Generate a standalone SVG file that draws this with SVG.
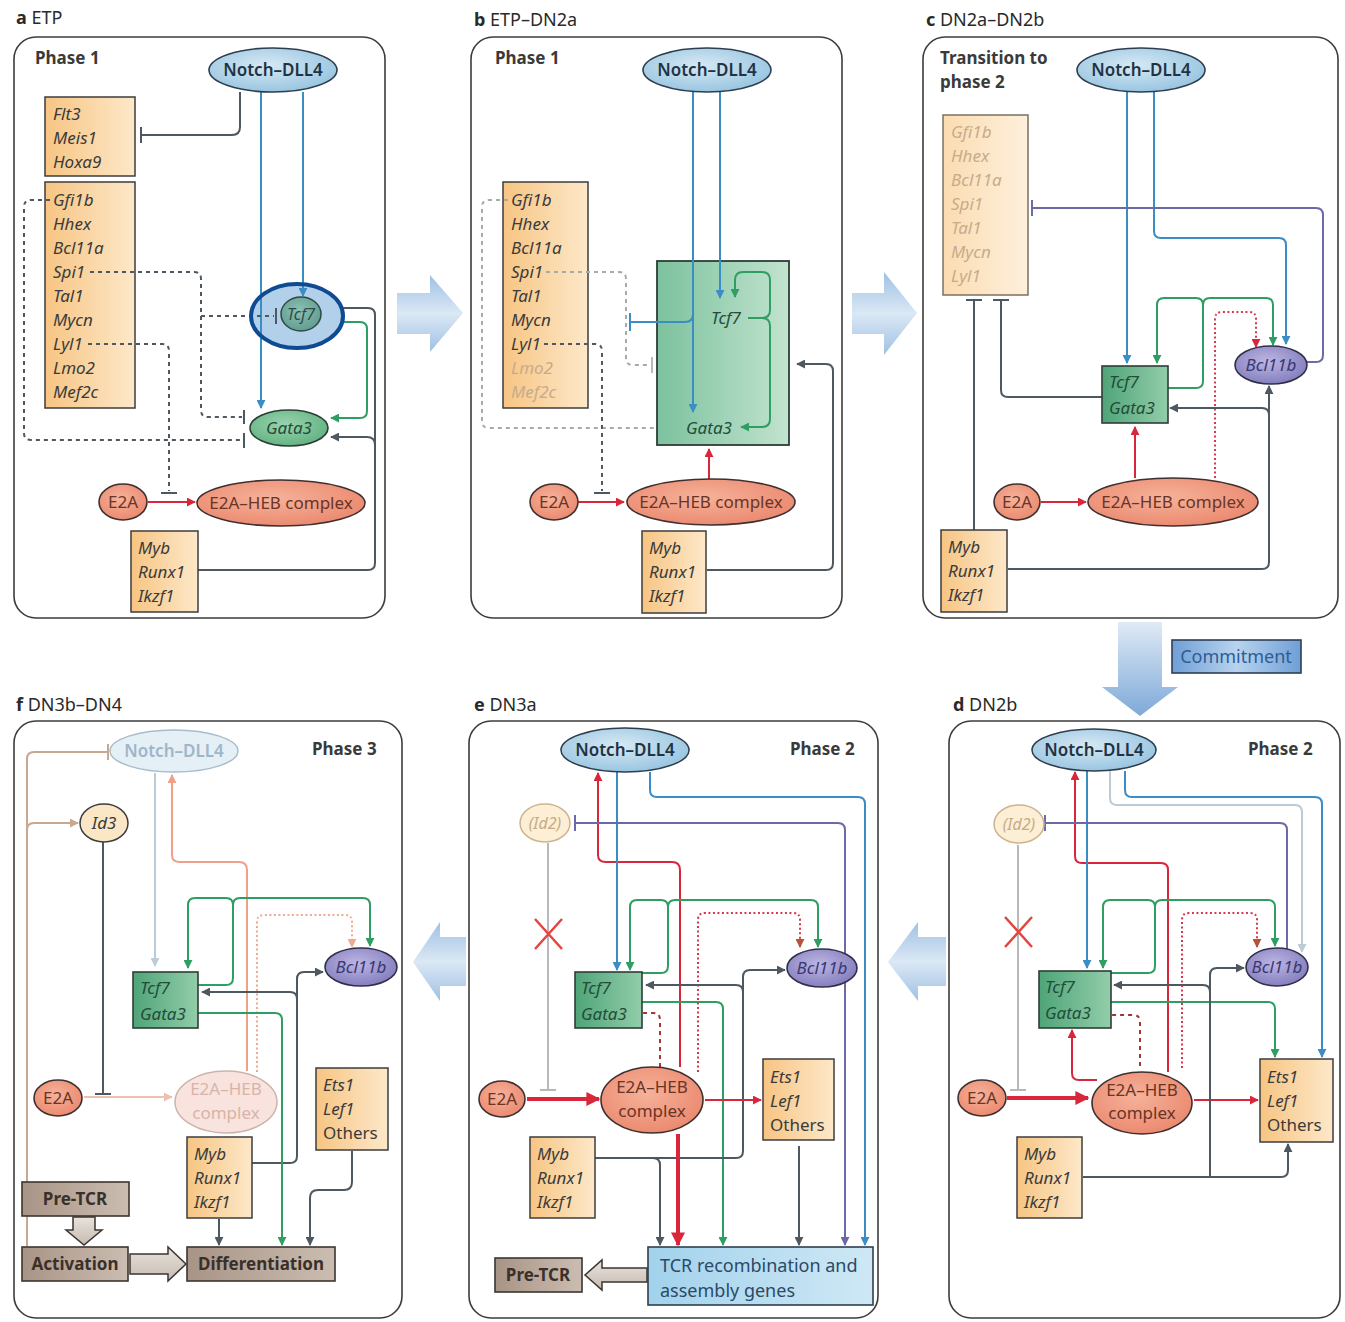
<svg xmlns="http://www.w3.org/2000/svg" width="1345" height="1322" viewBox="0 0 1345 1322">
<defs>
  <linearGradient id="gOrange" x1="0" x2="1" y1="0" y2="0"><stop offset="0" stop-color="#f7c583"/><stop offset="1" stop-color="#fde8c9"/></linearGradient>
  <linearGradient id="gOrangeFade" x1="0" x2="1"><stop offset="0" stop-color="#fbdcb2"/><stop offset="1" stop-color="#fef0dc"/></linearGradient>
  <linearGradient id="gGreen" x1="0" x2="1"><stop offset="0" stop-color="#4fa478"/><stop offset="1" stop-color="#92cdaa"/></linearGradient>
  <linearGradient id="gGreenBig" x1="0" x2="1"><stop offset="0" stop-color="#7cc29e"/><stop offset="1" stop-color="#c2e3cf"/></linearGradient>
  <radialGradient id="gNotch" cx="0.45" cy="0.4" r="0.7"><stop offset="0" stop-color="#d7e9f4"/><stop offset="1" stop-color="#8fc0de"/></radialGradient>
  <radialGradient id="gSalmon" cx="0.45" cy="0.4" r="0.7"><stop offset="0" stop-color="#f6b29a"/><stop offset="1" stop-color="#e9846a"/></radialGradient>
  <radialGradient id="gPurple" cx="0.45" cy="0.4" r="0.7"><stop offset="0" stop-color="#bcb6e4"/><stop offset="1" stop-color="#7c76b8"/></radialGradient>
  <radialGradient id="gTeal" cx="0.45" cy="0.4" r="0.7"><stop offset="0" stop-color="#8cc0b4"/><stop offset="1" stop-color="#5c978b"/></radialGradient>
  <radialGradient id="gGata" cx="0.45" cy="0.4" r="0.7"><stop offset="0" stop-color="#9ad3ae"/><stop offset="1" stop-color="#5aae7d"/></radialGradient>
  <linearGradient id="gArrowH" x1="0" x2="0" y1="0" y2="1"><stop offset="0" stop-color="#9fc1e3"/><stop offset="0.5" stop-color="#dbe8f5"/><stop offset="1" stop-color="#9fc1e3"/></linearGradient>
  <linearGradient id="gArrowDown" x1="0" x2="0" y1="0" y2="1"><stop offset="0" stop-color="#dfeaf6"/><stop offset="1" stop-color="#7ea9d8"/></linearGradient>
  <linearGradient id="gCommit" x1="0" x2="1"><stop offset="0" stop-color="#6f9fd6"/><stop offset="0.5" stop-color="#b9d3ee"/><stop offset="1" stop-color="#6f9fd6"/></linearGradient>
  <linearGradient id="gTCR" x1="0" x2="1"><stop offset="0" stop-color="#a2d2ec"/><stop offset="1" stop-color="#cfe8f5"/></linearGradient>
  <linearGradient id="gTan" x1="0" x2="1"><stop offset="0" stop-color="#a89486"/><stop offset="1" stop-color="#cbbdb1"/></linearGradient>
  <linearGradient id="gHollow" x1="0" x2="0" y1="0" y2="1"><stop offset="0" stop-color="#e9e3dd"/><stop offset="1" stop-color="#c5bbb1"/></linearGradient>

  <marker id="aBlue" viewBox="0 0 10 10" refX="9" refY="5" markerWidth="9" markerHeight="9" markerUnits="userSpaceOnUse" orient="auto"><path d="M0,0 L10,5 L0,10 z" fill="#3b8dc6"/></marker>
  <marker id="aGreen" viewBox="0 0 10 10" refX="9" refY="5" markerWidth="9" markerHeight="9" markerUnits="userSpaceOnUse" orient="auto"><path d="M0,0 L10,5 L0,10 z" fill="#2f9e62"/></marker>
  <marker id="aRed" viewBox="0 0 10 10" refX="9" refY="5" markerWidth="9" markerHeight="9" markerUnits="userSpaceOnUse" orient="auto"><path d="M0,0 L10,5 L0,10 z" fill="#d9263a"/></marker>
  <marker id="aRedBig" viewBox="0 0 10 10" refX="9" refY="5" markerWidth="14" markerHeight="14" markerUnits="userSpaceOnUse" orient="auto"><path d="M0,0 L10,5 L0,10 z" fill="#d9263a"/></marker>
  <marker id="aGray" viewBox="0 0 10 10" refX="9" refY="5" markerWidth="9" markerHeight="9" markerUnits="userSpaceOnUse" orient="auto"><path d="M0,0 L10,5 L0,10 z" fill="#4d5860"/></marker>
  <marker id="aPurple" viewBox="0 0 10 10" refX="9" refY="5" markerWidth="9" markerHeight="9" markerUnits="userSpaceOnUse" orient="auto"><path d="M0,0 L10,5 L0,10 z" fill="#6b69a8"/></marker>
  <marker id="aLight" viewBox="0 0 10 10" refX="9" refY="5" markerWidth="9" markerHeight="9" markerUnits="userSpaceOnUse" orient="auto"><path d="M0,0 L10,5 L0,10 z" fill="#bccbd8"/></marker>
  <marker id="aSalmon" viewBox="0 0 10 10" refX="9" refY="5" markerWidth="9" markerHeight="9" markerUnits="userSpaceOnUse" orient="auto"><path d="M0,0 L10,5 L0,10 z" fill="#f0a088"/></marker>
  <marker id="aPale" viewBox="0 0 10 10" refX="9" refY="5" markerWidth="9" markerHeight="9" markerUnits="userSpaceOnUse" orient="auto"><path d="M0,0 L10,5 L0,10 z" fill="#efc0b2"/></marker>
  <marker id="aTan" viewBox="0 0 10 10" refX="9" refY="5" markerWidth="9" markerHeight="9" markerUnits="userSpaceOnUse" orient="auto"><path d="M0,0 L10,5 L0,10 z" fill="#c9a88f"/></marker>
  <marker id="aBrown" viewBox="0 0 10 10" refX="9" refY="5" markerWidth="9" markerHeight="9" markerUnits="userSpaceOnUse" orient="auto"><path d="M0,0 L10,5 L0,10 z" fill="#b5523a"/></marker>
  <marker id="aPink" viewBox="0 0 10 10" refX="9" refY="5" markerWidth="9" markerHeight="9" markerUnits="userSpaceOnUse" orient="auto"><path d="M0,0 L10,5 L0,10 z" fill="#f0a890"/></marker>

  <style>
    text { font-family: "Noto Sans", "Liberation Sans", sans-serif; }
    .frame { fill: #ffffff; stroke: #3c3c3c; stroke-width: 1.6; }
    .title { font-size: 18px; fill: #2a2a2a; }
    .title .k { font-weight: bold; }
    .phase { font-size: 17px; font-weight: bold; fill: #3a3a3a; }
    .gene { fill: url(#gOrange); stroke: #3d3d3d; stroke-width: 1.5; }
    .geneFade { fill: url(#gOrangeFade); stroke: #7a7060; stroke-width: 1.5; }
    .gt { font-size: 17px; font-style: italic; fill: #3b3b3b; }
    .gtf { font-size: 17px; font-style: italic; fill: #c8ab8a; }
    .up { font-style: normal; }
    .notch { fill: url(#gNotch); stroke: #2e3e4e; stroke-width: 1.6; }
    .notchT { font-size: 17px; font-weight: 600; fill: #1f3344; }
    .salmon { fill: url(#gSalmon); stroke: #3e3030; stroke-width: 1.6; }
    .salmonT { font-size: 17px; fill: #6a3426; }
    .gbox { fill: url(#gGreen); stroke: #2d3d34; stroke-width: 1.6; }
    .gboxT { font-size: 17px; font-style: italic; fill: #234c37; }
    .bcl { fill: url(#gPurple); stroke: #2f2f4a; stroke-width: 1.6; }
    .bclT { font-size: 17px; font-style: italic; fill: #3a3870; }
    .idn { fill: #fcefd6; stroke: #cdb48e; stroke-width: 1.5; }
    .idnT { font-size: 16px; font-style: italic; fill: #c9ab84; }
    .tanbox { fill: url(#gTan); stroke: #3b3530; stroke-width: 1.6; }
    .tanT { font-size: 17px; font-weight: bold; fill: #3a302a; }
    .blockArrow { fill: url(#gArrowH); stroke: none; }
    .hollow { fill: url(#gHollow); stroke: #3b3530; stroke-width: 1.5; }

    .c { fill: none; stroke-width: 2; }
    .blue { stroke: #3b8dc6; }
    .green { stroke: #2f9e62; }
    .red { stroke: #d9263a; }
    .redThick { stroke: #d9263a; stroke-width: 4; }
    .gray { stroke: #4d5860; }
    .purple { stroke: #6b69a8; }
    .light { stroke: #bccbd8; }
    .lgray { stroke: #b8b8b8; }
    .dash { stroke: #4d5860; stroke-dasharray: 4 4; }
    .dashLight { stroke: #a9a9a9; stroke-dasharray: 4 4; }
    .dotRed { stroke: #d43a4e; stroke-dasharray: 2 2.5; }
    .dashBrown { stroke: #a13838; stroke-dasharray: 4 4; }
    .salm { stroke: #f0a088; }
    .pale { stroke: #efc0b2; }
    .tan { stroke: #c9a88f; }
    .dotPink { stroke: #f0a890; stroke-dasharray: 2 2.5; }
  </style>
</defs>

<rect x="0" y="0" width="1345" height="1322" fill="#ffffff"/>

<!-- panel titles -->
<g id="titles" class="title">
  <text x="16" y="24"><tspan class="k">a</tspan>  ETP</text>
  <text x="474" y="26"><tspan class="k">b</tspan>  ETP–DN2a</text>
  <text x="926" y="26"><tspan class="k">c</tspan>  DN2a–DN2b</text>
  <text x="953" y="711"><tspan class="k">d</tspan>  DN2b</text>
  <text x="474" y="711"><tspan class="k">e</tspan>  DN3a</text>
  <text x="16" y="711"><tspan class="k">f</tspan>  DN3b–DN4</text>
</g>

<!-- panel frames -->
<g id="frames">
  <rect class="frame" x="14" y="37" width="371" height="581" rx="22"/>
  <rect class="frame" x="471" y="37" width="371" height="581" rx="22"/>
  <rect class="frame" x="923" y="37" width="415" height="581" rx="22"/>
  <rect class="frame" x="949" y="721" width="391" height="597" rx="22"/>
  <rect class="frame" x="469" y="721" width="409" height="597" rx="22"/>
  <rect class="frame" x="14" y="721" width="388" height="597" rx="22"/>
</g>

<!-- stage-to-stage block arrows -->
<g id="stage-arrows">
  <path class="blockArrow" d="M397,293 H430 V275 L463,313 L430,352 V334 H397 Z"/>
  <path class="blockArrow" d="M852,293 H884 V272 L917,313 L884,355 V334 H852 Z"/>
  <path d="M1118,622 H1162 V687 H1178 L1140,716 L1102,687 H1118 Z" fill="url(#gArrowDown)"/>
  <path class="blockArrow" d="M946,937 H918 V922 L888,962 L918,1001 V986 H946 Z"/>
  <path class="blockArrow" d="M466,937 H440 V922 L413,962 L440,1001 V986 H466 Z"/>
  <g id="commitment">
    <rect x="1172" y="640" width="129" height="33" fill="url(#gCommit)" stroke="#2e3e55" stroke-width="1.6"/>
    <text x="1236" y="663" text-anchor="middle" font-size="18" fill="#2d5d95">Commitment</text>
  </g>
</g>

<!-- Tcf7 highlight ring background in panel a -->
<ellipse id="a-ring-fill" cx="297" cy="316" rx="46" ry="32" fill="#b3d0ea"/>
<!-- big green box in panel b -->
<rect id="b-tcf7-gata3" x="657" y="261" width="132" height="184" fill="url(#gGreenBig)" stroke="#2d3d34" stroke-width="1.8"/>

<!-- ================= connectors ================= -->
<g id="connectors">
  <!-- panel a -->
  <path class="c gray" d="M240,92 V127 Q240,135 232,135 H142"/>
  <path class="c gray" d="M141,127 V143"/>
  <path class="c blue" d="M303,92 V296" marker-end="url(#aBlue)"/>
  <path class="c blue" d="M261,92 V408" marker-end="url(#aBlue)"/>
  <path class="c red" d="M148,502 H195" marker-end="url(#aRed)"/>
  <path class="c gray" d="M198,570 H368 Q375,570 375,563 V315 Q375,308 368,308 H343"/>
  <path class="c gray" d="M375,445 Q375,437 367,437 H331" marker-end="url(#aGray)"/>
  <path class="c green" d="M341,322 H360 Q367,322 367,329 V411 Q367,418 360,418 H331" marker-end="url(#aGreen)"/>

  <!-- panel b -->
  <path class="c blue" d="M720,92 V298" marker-end="url(#aBlue)"/>
  <path class="c blue" d="M693,92 V412" marker-end="url(#aBlue)"/>
  <path class="c blue" d="M693,314 Q693,322 685,322 H631"/>
  <path class="c blue" d="M630,313 V331"/>
  <path class="c green" d="M748,318 H762 Q770,318 770,310 V280 Q770,272 762,272 H743 Q735,272 735,280 V297" marker-end="url(#aGreen)"/>
  <path class="c green" d="M762,318 Q770,318 770,326 V419 Q770,427 762,427 H741" marker-end="url(#aGreen)"/>
  <path class="c red" d="M578,502 H624" marker-end="url(#aRed)"/>
  <path class="c red" d="M709,479 V449" marker-end="url(#aRed)"/>
  <path class="c gray" d="M707,570 H826 Q833,570 833,563 V371 Q833,364 826,364 H797" marker-end="url(#aGray)"/>

  <!-- panel c -->
  <path class="c blue" d="M1127,92 V363" marker-end="url(#aBlue)"/>
  <path class="c blue" d="M1154,92 V231 Q1154,238 1161,238 H1279 Q1286,238 1286,245 V344" marker-end="url(#aBlue)"/>
  <path class="c purple" d="M1307,362 H1316 Q1323,362 1323,355 V215 Q1323,208 1316,208 H1033"/>
  <path class="c purple" d="M1032,200 V216"/>
  <path class="c gray" d="M974,530 V300"/>
  <path class="c gray" d="M966,300 H982"/>
  <path class="c gray" d="M1102,397 H1008 Q1001,397 1001,390 V300"/>
  <path class="c gray" d="M993,300 H1009"/>
  <path class="c green" d="M1168,388 H1196 Q1203,388 1203,381 V305 Q1203,298 1196,298 H1164 Q1157,298 1157,305 V363" marker-end="url(#aGreen)"/>
  <path class="c green" d="M1203,305 Q1203,298 1210,298 H1266 Q1273,298 1273,305 V345" marker-end="url(#aGreen)"/>
  <path class="c dotRed" d="M1215,478 V319 Q1215,312 1222,312 H1249 Q1256,312 1256,319 V347" marker-end="url(#aRed)"/>
  <path class="c red" d="M1135,478 V427" marker-end="url(#aRed)"/>
  <path class="c red" d="M1041,502 H1086" marker-end="url(#aRed)"/>
  <path class="c gray" d="M1008,569 H1262 Q1269,569 1269,562 V386" marker-end="url(#aGray)"/>
  <path class="c gray" d="M1269,415 Q1269,408 1262,408 H1170" marker-end="url(#aGray)"/>

  <!-- panel d -->
  <path class="c red" d="M1168,1072 V870 Q1168,863 1161,863 H1082 Q1075,863 1075,856 V772" marker-end="url(#aRed)"/>
  <path class="c blue" d="M1087,771 V968" marker-end="url(#aBlue)"/>
  <path class="c light" d="M1110,771 V798 Q1110,805 1117,805 H1295 Q1302,805 1302,812 V952" marker-end="url(#aLight)"/>
  <path class="c blue" d="M1125,771 V790 Q1125,797 1132,797 H1315 Q1322,797 1322,804 V1057" marker-end="url(#aBlue)"/>
  <path class="c purple" d="M1287,950 V830 Q1287,823 1280,823 H1046"/>
  <path class="c purple" d="M1045,815 V831"/>
  <path class="c lgray" d="M1018,845 V1090"/>
  <path class="c lgray" d="M1010,1090 H1026"/>
  <path class="c green" d="M1111,973 H1148 Q1155,973 1155,966 V907 Q1155,900 1148,900 H1110 Q1103,900 1103,907 V968" marker-end="url(#aGreen)"/>
  <path class="c green" d="M1155,907 Q1155,900 1162,900 H1268 Q1275,900 1275,907 V946" marker-end="url(#aGreen)"/>
  <path class="c green" d="M1111,1002 H1268 Q1275,1002 1275,1009 V1057" marker-end="url(#aGreen)"/>
  <path class="c dotRed" d="M1182,1068 V920 Q1182,913 1189,913 H1250 Q1257,913 1257,920 V947" marker-end="url(#aBrown)"/>
  <path class="c dashBrown" d="M1140,1066 V1022 Q1140,1015 1133,1015 H1107"/>
  <path d="M1104,1004 V1022" stroke="#e0762a" stroke-width="2.5"/>
  <path class="c red" d="M1097,1080 H1079 Q1072,1080 1072,1073 V1030" marker-end="url(#aRed)"/>
  <path class="c redThick" d="M1007,1098 H1088" marker-end="url(#aRedBig)"/>
  <path class="c red" d="M1194,1100 H1258" marker-end="url(#aRed)"/>
  <path class="c gray" d="M1083,1177 H1281 Q1288,1177 1288,1170 V1144" marker-end="url(#aGray)"/>
  <path class="c gray" d="M1210,1177 V975 Q1210,968 1217,968 H1244" marker-end="url(#aGray)"/>
  <path class="c gray" d="M1210,992 Q1210,985 1203,985 H1114" marker-end="url(#aGray)"/>

  <!-- panel e -->
  <path class="c red" d="M680,1067 V870 Q680,862 672,862 H606 Q598,862 598,855 V773" marker-end="url(#aRed)"/>
  <path class="c blue" d="M617,772 V970" marker-end="url(#aBlue)"/>
  <path class="c blue" d="M650,772 V790 Q650,797 657,797 H858 Q865,797 865,804 V1245" marker-end="url(#aBlue)"/>
  <path class="c purple" d="M576,823 H838 Q845,823 845,830 V1245" marker-end="url(#aPurple)"/>
  <path class="c purple" d="M575,815 V831"/>
  <path class="c lgray" d="M548,843 V1090"/>
  <path class="c lgray" d="M540,1090 H556"/>
  <path class="c green" d="M642,973 H661 Q668,973 668,966 V907 Q668,900 661,900 H637 Q630,900 630,907 V970" marker-end="url(#aGreen)"/>
  <path class="c green" d="M668,907 Q668,900 675,900 H811 Q818,900 818,907 V947" marker-end="url(#aGreen)"/>
  <path class="c green" d="M642,1002 H716 Q723,1002 723,1009 V1245" marker-end="url(#aGreen)"/>
  <path class="c dotRed" d="M698,1072 V920 Q698,913 705,913 H793 Q800,913 800,920 V947" marker-end="url(#aBrown)"/>
  <path class="c dashBrown" d="M660,1067 V1020 Q660,1013 653,1013 H642"/>
  <path d="M638,1004 V1022" stroke="#e0762a" stroke-width="2.5"/>
  <path class="c gray" d="M595,1158 H653 Q660,1158 660,1165 V1245" marker-end="url(#aGray)"/>
  <path class="c gray" d="M653,1158 H736 Q743,1158 743,1151 V977 Q743,970 750,970 H785" marker-end="url(#aGray)"/>
  <path class="c gray" d="M743,992 Q743,985 736,985 H646" marker-end="url(#aGray)"/>
  <path class="c redThick" d="M678,1134 V1245" marker-end="url(#aRedBig)"/>
  <path class="c gray" d="M799,1146 V1245" marker-end="url(#aGray)"/>
  <path class="c red" d="M705,1100 H761" marker-end="url(#aRed)"/>
  <path class="c redThick" d="M527,1099 H599" marker-end="url(#aRedBig)"/>

  <!-- panel f -->
  <path class="c tan" d="M27,1246 V830 Q27,823 34,823 H78" marker-end="url(#aTan)"/>
  <path class="c tan" d="M27,830 V759 Q27,752 34,752 H107"/>
  <path class="c tan" d="M108,744 V760"/>
  <path class="c gray" d="M103,842 V1093"/>
  <path class="c gray" d="M95,1094 H111"/>
  <path class="c light" d="M155,773 V966" marker-end="url(#aLight)"/>
  <path class="c salm" d="M247,1071 V870 Q247,862 239,862 H180 Q172,862 172,855 V775" marker-end="url(#aSalmon)"/>
  <path class="c green" d="M198,985 H226 Q233,985 233,978 V905 Q233,898 226,898 H195 Q188,898 188,905 V968" marker-end="url(#aGreen)"/>
  <path class="c green" d="M233,905 Q233,898 240,898 H363 Q370,898 370,905 V946" marker-end="url(#aGreen)"/>
  <path class="c dotPink" d="M257,1072 V922 Q257,915 264,915 H345 Q352,915 352,922 V947" marker-end="url(#aPink)"/>
  <path class="c gray" d="M252,1163 H290 Q297,1163 297,1156 V979 Q297,972 304,972 H323" marker-end="url(#aGray)"/>
  <path class="c gray" d="M297,999 Q297,992 290,992 H202" marker-end="url(#aGray)"/>
  <path class="c green" d="M198,1013 H275 Q282,1013 282,1020 V1245" marker-end="url(#aGreen)"/>
  <path class="c pale" d="M84,1097 H172" marker-end="url(#aPale)"/>
  <path class="c gray" d="M219,1219 V1245" marker-end="url(#aGray)"/>
  <path class="c gray" d="M352,1151 V1182 Q352,1190 344,1190 H318 Q310,1190 310,1198 V1245" marker-end="url(#aGray)"/>

  <!-- hollow process arrows -->
  <path class="hollow" d="M73,1217 H95 V1230 H102 L84,1245 L66,1230 H73 Z"/>
  <path class="hollow" d="M130,1254 H168 V1247 L186,1264 L168,1281 V1274 H130 Z"/>
  <path class="hollow" d="M647,1268 H602 V1260 L585,1275 L602,1290 V1282 H647 Z"/>
</g>

<!-- ================= nodes ================= -->
<!-- panel a -->
<g id="a-nodes">
  <g id="a-notch"><ellipse class="notch" cx="273" cy="70" rx="64" ry="22"/><text class="notchT" x="273" y="76" text-anchor="middle">Notch–DLL4</text></g>
  <g id="a-flt3"><rect class="gene" x="45" y="97" width="90" height="79"/>
    <text class="gt" x="53"><tspan x="53" y="120">Flt3</tspan><tspan x="53" y="144">Meis1</tspan><tspan x="53" y="168">Hoxa9</tspan></text></g>
  <g id="a-genes"><rect class="gene" x="45" y="182" width="90" height="226"/>
    <text class="gt"><tspan x="53" y="206">Gfi1b</tspan><tspan x="53" y="230">Hhex</tspan><tspan x="53" y="254">Bcl11a</tspan><tspan x="53" y="278">Spi1</tspan><tspan x="53" y="302">Tal1</tspan><tspan x="53" y="326">Mycn</tspan><tspan x="53" y="350">Lyl1</tspan><tspan x="53" y="374">Lmo2</tspan><tspan x="53" y="398">Mef2c</tspan></text></g>
  <g id="a-tcf7"><ellipse cx="301" cy="314" rx="20" ry="17" fill="url(#gTeal)" stroke="#2e4a44" stroke-width="1.5"/><text x="301" y="320" text-anchor="middle" font-size="16" font-style="italic" fill="#2c4c46">Tcf7</text></g>
  <g id="a-gata3"><ellipse cx="289" cy="428" rx="39" ry="18" fill="url(#gGata)" stroke="#2d3d34" stroke-width="1.6"/><text class="gboxT" x="289" y="434" text-anchor="middle">Gata3</text></g>
  <g id="a-e2a"><ellipse class="salmon" cx="123" cy="502" rx="24" ry="18"/><text class="salmonT" x="123" y="508" text-anchor="middle">E2A</text></g>
  <g id="a-e2aheb"><ellipse class="salmon" cx="281" cy="503" rx="84" ry="23"/><text class="salmonT" x="281" y="509" text-anchor="middle">E2A–HEB complex</text></g>
  <g id="a-myb"><rect class="gene" x="131" y="531" width="67" height="81"/>
    <text class="gt"><tspan x="138" y="554">Myb</tspan><tspan x="138" y="578">Runx1</tspan><tspan x="138" y="602">Ikzf1</tspan></text></g>
  <text class="phase" x="35" y="64">Phase 1</text>
</g>

<!-- panel b -->
<g id="b-nodes">
  <g id="b-notch"><ellipse class="notch" cx="707" cy="70" rx="64" ry="22"/><text class="notchT" x="707" y="76" text-anchor="middle">Notch–DLL4</text></g>
  <g id="b-genes"><rect class="gene" x="503" y="182" width="85" height="226"/>
    <text class="gt"><tspan x="511" y="206">Gfi1b</tspan><tspan x="511" y="230">Hhex</tspan><tspan x="511" y="254">Bcl11a</tspan><tspan x="511" y="278">Spi1</tspan><tspan x="511" y="302">Tal1</tspan><tspan x="511" y="326">Mycn</tspan><tspan x="511" y="350">Lyl1</tspan></text>
    <text class="gtf"><tspan x="511" y="374">Lmo2</tspan><tspan x="511" y="398">Mef2c</tspan></text></g>
  <g id="b-box-labels"><text class="gboxT" x="726" y="324" text-anchor="middle">Tcf7</text><text class="gboxT" x="709" y="434" text-anchor="middle">Gata3</text></g>
  <g id="b-e2a"><ellipse class="salmon" cx="554" cy="502" rx="24" ry="18"/><text class="salmonT" x="554" y="508" text-anchor="middle">E2A</text></g>
  <g id="b-e2aheb"><ellipse class="salmon" cx="711" cy="502" rx="84" ry="23"/><text class="salmonT" x="711" y="508" text-anchor="middle">E2A–HEB complex</text></g>
  <g id="b-myb"><rect class="gene" x="642" y="531" width="64" height="82"/>
    <text class="gt"><tspan x="649" y="554">Myb</tspan><tspan x="649" y="578">Runx1</tspan><tspan x="649" y="602">Ikzf1</tspan></text></g>
  <text class="phase" x="495" y="64">Phase 1</text>
</g>

<!-- panel c -->
<g id="c-nodes">
  <g id="c-notch"><ellipse class="notch" cx="1141" cy="70" rx="64" ry="22"/><text class="notchT" x="1141" y="76" text-anchor="middle">Notch–DLL4</text></g>
  <g id="c-genes"><rect class="geneFade" x="943" y="115" width="85" height="180"/>
    <text class="gtf"><tspan x="951" y="138">Gfi1b</tspan><tspan x="951" y="162">Hhex</tspan><tspan x="951" y="186">Bcl11a</tspan><tspan x="951" y="210">Spi1</tspan><tspan x="951" y="234">Tal1</tspan><tspan x="951" y="258">Mycn</tspan><tspan x="951" y="282">Lyl1</tspan></text></g>
  <g id="c-tcf7gata3"><rect class="gbox" x="1102" y="366" width="66" height="57"/>
    <text class="gboxT"><tspan x="1109" y="388">Tcf7</tspan><tspan x="1109" y="414">Gata3</tspan></text></g>
  <g id="c-bcl11b"><ellipse class="bcl" cx="1271" cy="365" rx="36" ry="19"/><text class="bclT" x="1271" y="371" text-anchor="middle">Bcl11b</text></g>
  <g id="c-e2a"><ellipse class="salmon" cx="1017" cy="502" rx="23" ry="18"/><text class="salmonT" x="1017" y="508" text-anchor="middle">E2A</text></g>
  <g id="c-e2aheb"><ellipse class="salmon" cx="1173" cy="502" rx="85" ry="24"/><text class="salmonT" x="1173" y="508" text-anchor="middle">E2A–HEB complex</text></g>
  <g id="c-myb"><rect class="gene" x="941" y="530" width="66" height="82"/>
    <text class="gt"><tspan x="948" y="553">Myb</tspan><tspan x="948" y="577">Runx1</tspan><tspan x="948" y="601">Ikzf1</tspan></text></g>
  <text class="phase" x="940" y="64">Transition to</text>
  <text class="phase" x="940" y="88">phase 2</text>
</g>

<!-- panel d -->
<g id="d-nodes">
  <g id="d-notch"><ellipse class="notch" cx="1094" cy="750" rx="62" ry="21"/><text class="notchT" x="1094" y="756" text-anchor="middle">Notch–DLL4</text></g>
  <g id="d-id2"><ellipse class="idn" cx="1019" cy="824" rx="25" ry="19"/><text class="idnT" x="1019" y="830" text-anchor="middle">(Id2)</text></g>
  <g id="d-x" stroke="#e2463e" stroke-width="2.5"><path d="M1005,917 L1032,947 M1032,917 L1005,947"/></g>
  <g id="d-tcf7gata3"><rect class="gbox" x="1039" y="971" width="72" height="57"/>
    <text class="gboxT"><tspan x="1045" y="993">Tcf7</tspan><tspan x="1045" y="1019">Gata3</tspan></text></g>
  <g id="d-bcl11b"><ellipse class="bcl" cx="1277" cy="967" rx="31" ry="19"/><text class="bclT" x="1277" y="973" text-anchor="middle">Bcl11b</text></g>
  <g id="d-e2a"><ellipse class="salmon" cx="982" cy="1098" rx="24" ry="18"/><text class="salmonT" x="982" y="1104" text-anchor="middle">E2A</text></g>
  <g id="d-e2aheb"><ellipse class="salmon" cx="1142" cy="1103" rx="50" ry="31"/>
    <text class="salmonT" text-anchor="middle"><tspan x="1142" y="1096">E2A–HEB</tspan><tspan x="1142" y="1119">complex</tspan></text></g>
  <g id="d-ets1"><rect class="gene" x="1260" y="1059" width="73" height="83"/>
    <text class="gt"><tspan x="1267" y="1083">Ets1</tspan><tspan x="1267" y="1107">Lef1</tspan><tspan x="1267" y="1131" class="up">Others</tspan></text></g>
  <g id="d-myb"><rect class="gene" x="1017" y="1137" width="65" height="81"/>
    <text class="gt"><tspan x="1024" y="1160">Myb</tspan><tspan x="1024" y="1184">Runx1</tspan><tspan x="1024" y="1208">Ikzf1</tspan></text></g>
  <text class="phase" x="1248" y="755">Phase 2</text>
</g>

<!-- panel e -->
<g id="e-nodes">
  <g id="e-notch"><ellipse class="notch" cx="625" cy="750" rx="64" ry="22"/><text class="notchT" x="625" y="756" text-anchor="middle">Notch–DLL4</text></g>
  <g id="e-id2"><ellipse class="idn" cx="545" cy="823" rx="25" ry="19"/><text class="idnT" x="545" y="829" text-anchor="middle">(Id2)</text></g>
  <g id="e-x" stroke="#e2463e" stroke-width="2.5"><path d="M535,919 L562,949 M562,919 L535,949"/></g>
  <g id="e-tcf7gata3"><rect class="gbox" x="575" y="972" width="67" height="56"/>
    <text class="gboxT"><tspan x="581" y="994">Tcf7</tspan><tspan x="581" y="1020">Gata3</tspan></text></g>
  <g id="e-bcl11b"><ellipse class="bcl" cx="822" cy="968" rx="35" ry="19"/><text class="bclT" x="822" y="974" text-anchor="middle">Bcl11b</text></g>
  <g id="e-e2a"><ellipse class="salmon" cx="502" cy="1099" rx="23" ry="18"/><text class="salmonT" x="502" y="1105" text-anchor="middle">E2A</text></g>
  <g id="e-e2aheb"><ellipse class="salmon" cx="652" cy="1100" rx="51" ry="33"/>
    <text class="salmonT" text-anchor="middle"><tspan x="652" y="1093">E2A–HEB</tspan><tspan x="652" y="1117">complex</tspan></text></g>
  <g id="e-ets1"><rect class="gene" x="763" y="1059" width="71" height="81"/>
    <text class="gt"><tspan x="770" y="1083">Ets1</tspan><tspan x="770" y="1107">Lef1</tspan><tspan x="770" y="1131" class="up">Others</tspan></text></g>
  <g id="e-myb"><rect class="gene" x="530" y="1137" width="65" height="81"/>
    <text class="gt"><tspan x="537" y="1160">Myb</tspan><tspan x="537" y="1184">Runx1</tspan><tspan x="537" y="1208">Ikzf1</tspan></text></g>
  <g id="e-tcr"><rect x="648" y="1247" width="225" height="58" fill="url(#gTCR)" stroke="#2f3f4e" stroke-width="1.6"/>
    <text font-size="18" fill="#2a4a66"><tspan x="660" y="1272">TCR recombination and</tspan><tspan x="660" y="1297">assembly genes</tspan></text></g>
  <g id="e-pretcr"><rect class="tanbox" x="495" y="1258" width="87" height="34"/><text class="tanT" x="538" y="1281" text-anchor="middle">Pre-TCR</text></g>
  <text class="phase" x="790" y="755">Phase 2</text>
</g>

<!-- panel f -->
<g id="f-nodes">
  <g id="f-notch"><ellipse cx="174" cy="751" rx="64" ry="21" fill="#e4eff6" stroke="#a9bccb" stroke-width="1.5"/><text x="174" y="757" text-anchor="middle" font-size="17" font-weight="600" fill="#9fb6c8">Notch–DLL4</text></g>
  <g id="f-id3"><ellipse cx="104" cy="823" rx="24" ry="19" fill="#fbe7c6" stroke="#3d3d3d" stroke-width="1.5"/><text class="gt" x="104" y="829" text-anchor="middle">Id3</text></g>
  <g id="f-tcf7gata3"><rect class="gbox" x="133" y="972" width="65" height="56"/>
    <text class="gboxT"><tspan x="140" y="994">Tcf7</tspan><tspan x="140" y="1020">Gata3</tspan></text></g>
  <g id="f-bcl11b"><ellipse class="bcl" cx="361" cy="967" rx="36" ry="19"/><text class="bclT" x="361" y="973" text-anchor="middle">Bcl11b</text></g>
  <g id="f-e2a"><ellipse class="salmon" cx="58" cy="1098" rx="24" ry="18"/><text class="salmonT" x="58" y="1104" text-anchor="middle">E2A</text></g>
  <g id="f-e2aheb"><ellipse cx="226" cy="1102" rx="51" ry="31" fill="#f8e3de" stroke="#cdb3aa" stroke-width="1.5"/>
    <text text-anchor="middle" font-size="17" fill="#d8b4a8"><tspan x="226" y="1095">E2A–HEB</tspan><tspan x="226" y="1119">complex</tspan></text></g>
  <g id="f-ets1"><rect class="gene" x="316" y="1068" width="72" height="82"/>
    <text class="gt"><tspan x="323" y="1091">Ets1</tspan><tspan x="323" y="1115">Lef1</tspan><tspan x="323" y="1139" class="up">Others</tspan></text></g>
  <g id="f-myb"><rect class="gene" x="187" y="1137" width="65" height="81"/>
    <text class="gt"><tspan x="194" y="1160">Myb</tspan><tspan x="194" y="1184">Runx1</tspan><tspan x="194" y="1208">Ikzf1</tspan></text></g>
  <g id="f-pretcr"><rect class="tanbox" x="22" y="1182" width="107" height="34"/><text class="tanT" x="75" y="1205" text-anchor="middle">Pre-TCR</text></g>
  <g id="f-activation"><rect class="tanbox" x="22" y="1247" width="106" height="34"/><text class="tanT" x="75" y="1270" text-anchor="middle">Activation</text></g>
  <g id="f-differentiation"><rect class="tanbox" x="187" y="1247" width="148" height="34"/><text class="tanT" x="261" y="1270" text-anchor="middle">Differentiation</text></g>
  <text class="phase" x="312" y="755">Phase 3</text>
</g>

<!-- dashed repression lines drawn over the gene lists they start from -->
<g id="connectors-repression">
  <!-- panel a -->
  <path class="c dash" d="M90,272 H194 Q201,272 201,279 V410 Q201,417 208,417 H242"/>
  <path class="c dash" d="M201,316 H274"/>
  <path class="c gray" d="M276,308 V324"/>
  <path class="c gray" d="M244,410 V424"/>
  <path class="c dash" d="M50,200 H31 Q24,200 24,207 V433 Q24,440 31,440 H242"/>
  <path class="c gray" d="M244,433 V448"/>
  <path class="c dash" d="M88,344 H162 Q169,344 169,351 V491"/>
  <path class="c gray" d="M161,493 H177"/>
  <!-- panel b -->
  <path class="c dashLight" d="M508,200 H489 Q482,200 482,207 V421 Q482,428 489,428 H655"/>
  <path class="c dashLight" d="M546,272 H619 Q626,272 626,279 V358 Q626,365 633,365 H650"/>
  <path class="c lgray" d="M652,357 V373"/>
  <path class="c dash" d="M544,344 H595 Q602,344 602,351 V491"/>
  <path class="c gray" d="M594,493 H610"/>
</g>

<!-- Tcf7 highlight ring in panel a -->
<ellipse id="a-ring" cx="297" cy="316" rx="46" ry="32" fill="none" stroke="#0e4b93" stroke-width="4"/>
</svg>
